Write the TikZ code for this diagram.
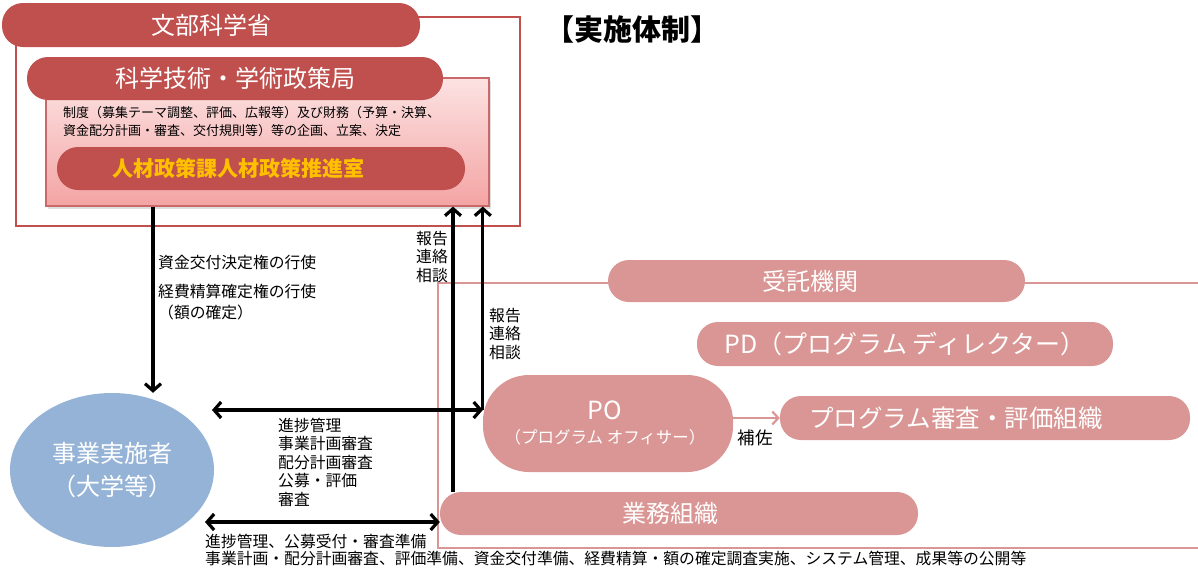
\documentclass[tikz,border=0pt]{standalone}
\usepackage{fontspec}
\setmainfont{Noto Sans CJK JP}
\usetikzlibrary{arrows.meta,shadows,shapes.geometric}
\definecolor{dred}{HTML}{C0504D}
\definecolor{pinkp}{HTML}{D99694}
\definecolor{bluee}{HTML}{95B3D7}
\definecolor{boxtop}{HTML}{FCE2E2}
\definecolor{boxbot}{HTML}{F4A4A4}
\definecolor{gold}{HTML}{FFC000}
\begin{document}
\begin{tikzpicture}[x=1pt,y=-1pt,
 pill/.style={rectangle, rounded corners=21pt, inner sep=0pt, text=white, font=\fontsize{24}{28}\selectfont},
 darkpill/.style={pill, fill=dred},
 pinkpill/.style={pill, fill=pinkp},
 lbl/.style={inner sep=0pt, font=\fontsize{15.8}{18.5}\selectfont, align=left},
 ptxt/.style={inner sep=0pt, text=white, font=\fontsize{24}{28}\selectfont},
 arr/.style={line width=3.2pt, -{Straight Barb[length=7pt,width=16pt]}},
 darr/.style={line width=3.2pt, {Straight Barb[length=7pt,width=16pt]}-{Straight Barb[length=7pt,width=16pt]}},
]
\useasboundingbox (0,0) rectangle (1198,568);
% outer frame
\draw[dred, line width=2pt] (16,17) rectangle (520,226);
\node[darkpill, minimum width=418pt, minimum height=44pt] (mext) at (211,25) {文部科学省};
\node[draw=dred!85, line width=1.2pt, top color=boxtop, bottom color=boxbot, minimum width=443pt, minimum height=128pt, inner sep=0pt,
  drop shadow={shadow xshift=2pt, shadow yshift=-3pt, opacity=0.25}] (box) at (267.5,142) {};
\node[darkpill, minimum width=416pt, minimum height=43pt] (kyoku) at (235,78.5) {科学技術・学術政策局};
\node[anchor=west, inner sep=0pt, font=\fontsize{13}{16}\selectfont] (seido1) at (63,113) {制度（募集テーマ調整、評価、広報等）及び財務（予算・決算、};
\node[anchor=west, inner sep=0pt, font=\fontsize{13}{16}\selectfont] (seido2) at (63,131) {資金配分計画・審査、交付規則等）等の企画、立案、決定};
\node[darkpill, minimum width=408pt, minimum height=43pt] (jinzai) at (261,168.5) {};
\node[inner sep=0pt, text=gold, font=\bfseries\fontsize{21}{25}\selectfont] (jinzait) at (238,168.5) {人材政策課人材政策推進室};
% title
\node[inner sep=0pt, font=\bfseries\fontsize{29}{34}\selectfont] (title) at (632,30) {【実施体制】};
% ellipse
\node[ellipse, fill=bluee, minimum width=204pt, minimum height=154pt, inner sep=0pt, text=white, align=center,
  font=\fontsize{24}{33}\selectfont] (ell) at (112,470) {事業実施者\\（大学等）};
% consignee frame
\draw[pinkp, line width=2pt] (438,283) rectangle (1215,548);
\node[pinkpill, minimum width=417pt, minimum height=42pt] (jutaku) at (816.5,281) {};
\node[ptxt] (jutakut) at (810,281) {受託機関};
\node[pinkpill, minimum width=416pt, minimum height=44pt, font=\fontsize{25}{28}\selectfont] (pd) at (905,344) {PD（プログラム ディレクター）};
\node[pinkpill, rounded corners=46pt, minimum width=250pt, minimum height=97pt] (po) at (608,423.5) {};
\node[inner sep=0pt, text=white, font=\fontsize{25}{28}\selectfont] (pot1) at (605,410) {PO};
\node[inner sep=0pt, text=white, font=\fontsize{16.5}{18}\selectfont] (pot2) at (605,437) {（プログラム オフィサー）};
\node[pinkpill, minimum width=410pt, minimum height=44pt] (shinsa) at (985,418) {};
\node[ptxt, font=\fontsize{24.5}{28}\selectfont] (shinsat) at (956,418) {プログラム審査・評価組織};
\node[pinkpill, minimum width=478pt, minimum height=43pt] (gyomu) at (679,513.5) {};
\node[ptxt] (gyomut) at (670,513.5) {業務組織};
% connectors
\coordinate (dA) at (153,300);
\draw[arr] (box.south -| dA) -- (dA |- ell.north);
\coordinate (uA) at (453,300);
\draw[arr] (gyomu.north -| uA) -- (box.south -| uA);
\coordinate (hL) at (212,410);
\draw[darr] (hL) -- (hL -| po.west);
\draw[arr] (hL -| po.west) -- (box.south -| po.west);
\coordinate (bL) at (205,522);
\draw[darr] (bL) -- (bL -| gyomu.west);
\draw[pinkp, line width=2.2pt, -{Straight Barb[length=6pt,width=13pt]}] (po.east |- shinsa.west) -- (shinsa.west);
% labels
\node[lbl, anchor=west] (l1) at (158,262) {資金交付決定権の行使};
\node[lbl, anchor=west] (l2) at (158,291) {経費精算確定権の行使};
\node[lbl, anchor=west] (l3) at (158,312) {（額の確定）};
\node[lbl] (r1) at (432,256.5) {報告\\連絡\\相談};
\node[lbl] (r2) at (505,333.5) {報告\\連絡\\相談};
\node[lbl, anchor=west] (sh) at (278,462) {進捗管理\\事業計画審査\\配分計画審査\\公募・評価\\審査};
\node[lbl, anchor=west] (b1) at (205,541) {進捗管理、公募受付・審査準備};
\node[lbl, anchor=west] (b2) at (205,559) {事業計画・配分計画審査、評価準備、資金交付準備、経費精算・額の確定調査実施、システム管理、成果等の公開等};
\node[lbl, font=\fontsize{17.5}{19}\selectfont] (hosa) at (755,438) {補佐};
\end{tikzpicture}
\end{document}
